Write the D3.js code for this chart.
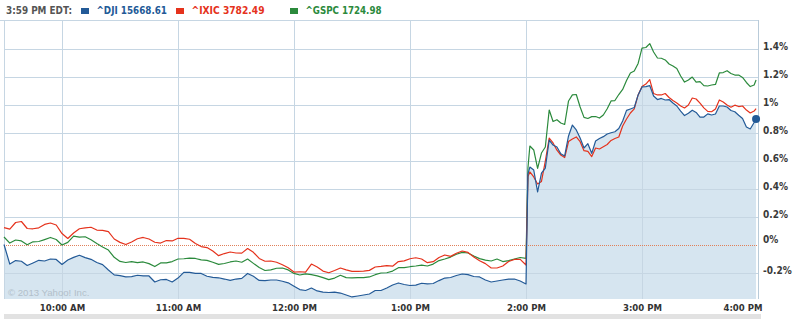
<!DOCTYPE html>
<html><head><meta charset="utf-8">
<script src="https://cdn.jsdelivr.net/npm/d3@7"></script>
<style>
html,body{margin:0;padding:0;background:#fff;}
svg{display:block;}
</style>
</head><body>
<svg id="c" width="796" height="319"></svg>
<script>
// minutes after 9:30 AM
const minutes = [0,3,6,9,12,15,18,21,24,27,30,33,36,39,42,45,48,51,54,57,60,63,66,69,72,75,78,81,84,87,90,93,96,99,102,105,108,111,114,117,120,123,126,129,132,135,138,141,144,147,150,153,156,159,162,165,168,171,174,177,180,183,186,189,192,195,198,201,204,207,210,213,216,219,222,225,228,231,234,237,240,243,246,249,252,255,258,261,264,267,270,
271,272,274,276,278,280,282,284,286,288,290,292,294,296,298,300,302,304,306,308,310,312,314,316,318,320,322,324,326,328,330,332,334,336,338,340,342,344,346,348,350,352,354,356,358,360,362,364,366,368,370,372,374,376,378,380,382,384,386,388,389];

// % change vs previous close
const dji = [0.006,-0.134,-0.109,-0.114,-0.144,-0.126,-0.107,-0.112,-0.098,-0.101,
-0.137,-0.105,-0.086,-0.071,-0.088,-0.1,-0.123,-0.138,-0.176,-0.211,
-0.217,-0.226,-0.224,-0.214,-0.218,-0.219,-0.262,-0.246,-0.244,-0.262,
-0.234,-0.193,-0.193,-0.201,-0.201,-0.221,-0.229,-0.232,-0.241,-0.251,
-0.241,-0.236,-0.201,-0.221,-0.251,-0.253,-0.248,-0.248,-0.257,-0.268,
-0.292,-0.316,-0.323,-0.305,-0.326,-0.334,-0.337,-0.334,-0.341,-0.355,
-0.369,-0.362,-0.355,-0.348,-0.323,-0.323,-0.305,-0.284,-0.269,-0.28,
-0.287,-0.284,-0.271,-0.276,-0.273,-0.252,-0.234,-0.23,-0.216,-0.205,
-0.209,-0.223,-0.226,-0.248,-0.262,-0.255,-0.248,-0.241,-0.241,-0.255,
-0.276,
0.509,0.559,0.538,0.381,0.516,0.552,0.752,0.716,0.702,0.654,0.638,0.781,0.859,0.824,0.766,0.695,0.726,0.657,0.745,0.763,
0.776,0.795,0.804,0.811,0.834,0.888,0.964,0.974,0.984,1.074,1.131,1.133,1.141,1.066,1.041,1.049,1.038,1.041,1.016,0.995,
0.959,0.927,0.943,0.965,0.949,0.916,0.916,0.939,0.931,0.938,0.995,0.995,0.988,0.963,0.954,0.929,0.906,0.845,0.831,0.877,0.902];

const ixic = [0.126,0.116,0.163,0.17,0.12,0.118,0.125,0.149,0.159,0.145,
0.084,0.049,0.088,0.118,0.124,0.129,0.109,0.107,0.098,0.045,
0.021,0.006,0.024,0.047,0.056,0.045,0.022,0.016,0.034,0.031,
0.05,0.049,0.043,0.013,-0.009,-0.016,-0.041,-0.074,-0.059,-0.048,
-0.055,-0.056,-0.023,-0.05,-0.094,-0.114,-0.112,-0.121,-0.139,-0.161,
-0.191,-0.189,-0.192,-0.134,-0.155,-0.184,-0.196,-0.18,-0.162,-0.176,
-0.186,-0.186,-0.184,-0.179,-0.155,-0.151,-0.145,-0.149,-0.116,-0.111,
-0.096,-0.089,-0.098,-0.124,-0.117,-0.087,-0.069,-0.079,-0.057,-0.041,
-0.051,-0.084,-0.11,-0.131,-0.162,-0.162,-0.148,-0.116,-0.101,-0.101,
-0.141,
0.491,0.524,0.488,0.438,0.456,0.602,0.766,0.731,0.679,0.645,0.627,0.741,0.759,0.774,0.74,0.676,0.671,0.634,0.695,0.688,
0.704,0.72,0.749,0.763,0.774,0.852,0.902,0.945,0.974,1.074,1.134,1.152,1.184,1.084,1.074,1.074,1.084,1.056,1.034,1.016,
0.995,0.981,1.002,1.052,1.045,1.016,0.982,0.957,0.954,0.974,1.038,1.024,1.002,0.986,1.001,0.991,0.995,0.966,0.945,0.959,0.977];

const gspc = [0.059,0.016,0.038,0.031,0.004,0.025,0.027,0.041,0.056,0.041,
0.002,0.021,0.065,0.058,0.061,0.04,0.013,-0.012,-0.034,-0.086,
-0.115,-0.123,-0.117,-0.124,-0.119,-0.131,-0.152,-0.126,-0.125,-0.116,
-0.098,-0.096,-0.091,-0.094,-0.104,-0.108,-0.121,-0.136,-0.13,-0.119,
-0.112,-0.121,-0.098,-0.129,-0.159,-0.18,-0.175,-0.164,-0.162,-0.176,
-0.201,-0.212,-0.204,-0.21,-0.218,-0.231,-0.245,-0.234,-0.214,-0.231,
-0.232,-0.231,-0.231,-0.226,-0.21,-0.198,-0.196,-0.184,-0.16,-0.159,
-0.153,-0.148,-0.141,-0.148,-0.134,-0.109,-0.098,-0.084,-0.064,-0.051,
-0.055,-0.076,-0.095,-0.106,-0.112,-0.098,-0.116,-0.11,-0.098,-0.087,
-0.093,
0.552,0.709,0.681,0.549,0.659,0.702,0.966,0.884,0.897,0.874,0.863,1.031,1.074,1.077,0.988,0.914,0.906,0.919,0.92,0.909,
0.931,0.975,1.031,1.034,1.077,1.113,1.177,1.231,1.245,1.299,1.409,1.413,1.441,1.381,1.338,1.336,1.324,1.295,1.281,1.263,
1.209,1.166,1.181,1.202,1.166,1.169,1.141,1.138,1.145,1.149,1.231,1.234,1.247,1.227,1.216,1.216,1.199,1.163,1.134,1.145,1.181];

const seriesLabels = ["^DJI 15668.61", "^IXIC 3782.49", "^GSPC 1724.98"];
const seriesColors = ["#235a97", "#e5321c", "#2b8a3c"];
const timeStampLabel = "3:59 PM EDT:";
const xTickMinutes = [30, 90, 150, 210, 270, 330, 390];
const xTickLabels = ["10:00 AM", "11:00 AM", "12:00 PM", "1:00 PM", "2:00 PM", "3:00 PM", "4:00 PM"];
const yTickValues = [-0.2, 0, 0.2, 0.4, 0.6, 0.8, 1, 1.2, 1.4];
const yTickLabels = ["-0.2%", "0%", "0.2%", "0.4%", "0.6%", "0.8%", "1%", "1.2%", "1.4%"];
const copyrightText = "\u00A9 2013 Yahoo! Inc.";

// ---- layout ----
const L = 4, R = 758, T = 20, B = 299;
const svg = d3.select("#c");
const x = d3.scaleLinear().domain([0, 390]).range([L, R]);
const y = d3.scaleLinear().domain([-0.2, 1.4]).range([273.3, 49.3]);
const gridColor = "#c6d6e3";

const pts = s => minutes.map((m, i) => [m, s[i]]);

// area under DJI
svg.append("path")
  .datum(pts(dji))
  .attr("fill", "#d6e5f0")
  .attr("d", d3.area().x(d => x(d[0])).y0(B).y1(d => y(d[1])));

// grid
const grid = svg.append("g").attr("stroke", gridColor).attr("stroke-width", 1).attr("shape-rendering", "crispEdges");
grid.selectAll("line.h").data(yTickValues.filter(v => v !== 0)).join("line")
  .attr("x1", L).attr("x2", R).attr("y1", d => Math.round(y(d)) + 0.5).attr("y2", d => Math.round(y(d)) + 0.5);
grid.selectAll("line.v").data(xTickMinutes).join("line")
  .attr("y1", T).attr("y2", B).attr("x1", d => Math.round(x(d)) + 0.5).attr("x2", d => Math.round(x(d)) + 0.5);
grid.append("line").attr("x1", 0).attr("x2", R).attr("y1", T + 0.5).attr("y2", T + 0.5);
grid.append("line").attr("x1", L + 0.5).attr("x2", L + 0.5).attr("y1", T).attr("y2", B);
grid.append("line").attr("x1", R + 0.5).attr("x2", R + 0.5).attr("y1", T).attr("y2", B).attr("stroke", "#b9cbd9");

// previous close line
svg.append("line")
  .attr("x1", L).attr("x2", R)
  .attr("y1", Math.round(y(0)) + 0.5).attr("y2", Math.round(y(0)) + 0.5)
  .attr("stroke", "#e0805a").attr("stroke-width", 1).attr("stroke-dasharray", "1,1")
  .attr("shape-rendering", "crispEdges");

// copyright
svg.append("text").attr("x", 8).attr("y", 296)
  .attr("font-family", "'Liberation Sans', Arial, sans-serif").attr("font-size", 9.6)
  .attr("fill", "#b2bfca").text(copyrightText);

// lines
const line = d3.line().x(d => x(d[0])).y(d => y(d[1]));
[[gspc, 2], [ixic, 1], [dji, 0]].forEach(([s, ci]) => {
  svg.append("path").datum(pts(s))
    .attr("fill", "none").attr("stroke", seriesColors[ci]).attr("stroke-width", 1.2)
    .attr("stroke-linejoin", "round").attr("d", line);
});

// end dot
const last = dji.length - 1;
svg.append("circle").attr("cx", x(minutes[last])).attr("cy", y(dji[last])).attr("r", 4).attr("fill", seriesColors[0]);

// y axis (right)
const yAxis = d3.axisRight(y).tickValues(yTickValues).tickFormat((d, i) => yTickLabels[i]).tickSize(0).tickPadding(5);
const yg = svg.append("g").attr("transform", `translate(${R},0)`).call(yAxis);
yg.select(".domain").remove();
yg.selectAll("text")
  .attr("font-family", "'DejaVu Sans Condensed', 'DejaVu Sans', sans-serif")
  .attr("font-stretch", "condensed")
  .attr("font-weight", "bold").attr("font-size", 10).attr("fill", "#3a3a3a")
  .attr("dy", d => d === 0 ? "-0.3em" : "0.05em");

// x axis (bottom)
const xAxis = d3.axisBottom(x).tickValues(xTickMinutes).tickFormat((d, i) => xTickLabels[i]).tickSize(0).tickPadding(0);
const xg = svg.append("g").attr("transform", `translate(0,${B})`).call(xAxis);
xg.select(".domain").remove();
xg.selectAll("text")
  .attr("font-family", "'DejaVu Sans Condensed', 'DejaVu Sans', sans-serif")
  .attr("font-stretch", "condensed")
  .attr("font-weight", "bold").attr("font-size", 9.5).attr("fill", "#333")
  .attr("y", 12).attr("dy", 0);
// last label kept inside the plot's right edge
xg.selectAll(".tick").filter(d => d === xTickMinutes[xTickMinutes.length - 1]).select("text")
  .attr("text-anchor", "end").attr("x", 4);

// bottom grey band
svg.append("rect").attr("x", L).attr("y", 314).attr("width", R - L + 3).attr("height", 5).attr("fill", "#e2e2e2");

// header
const hdrFont = "'DejaVu Sans Condensed', 'DejaVu Sans', sans-serif";
svg.append("text").attr("x", 6).attr("y", 14)
  .attr("font-family", hdrFont).attr("font-stretch", "condensed").attr("font-weight", "bold").attr("font-size", 10)
  .attr("fill", "#555").attr("textLength", 66).attr("lengthAdjust", "spacingAndGlyphs").text(timeStampLabel);

const legendX = [81, 176, 290];
const legendW = [70.5, 73, 76];
seriesLabels.forEach((lab, i) => {
  svg.append("rect").attr("x", legendX[i]).attr("y", 8).attr("width", 8).attr("height", 6).attr("fill", seriesColors[i]);
  svg.append("text").attr("x", legendX[i] + 15.5).attr("y", 14)
    .attr("font-family", hdrFont).attr("font-stretch", "condensed").attr("font-weight", "bold").attr("font-size", 10)
    .attr("fill", seriesColors[i]).attr("textLength", legendW[i]).attr("lengthAdjust", "spacingAndGlyphs").text(lab);
});
</script>
</body></html>
